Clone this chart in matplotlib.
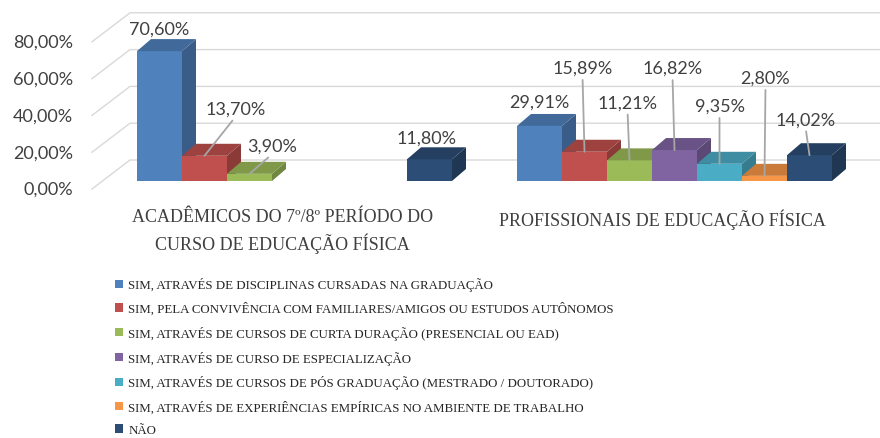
import numpy as np
import matplotlib.pyplot as plt
from matplotlib.patches import Polygon, Patch
from matplotlib.colors import to_rgb

# dados
grupos = ["ACADÊMICOS DO 7º/8º PERÍODO DO\nCURSO DE EDUCAÇÃO FÍSICA",
          "PROFISSIONAIS DE EDUCAÇÃO FÍSICA"]
series = ["SIM, ATRAVÉS DE DISCIPLINAS CURSADAS NA GRADUAÇÃO",
          "SIM, PELA CONVIVÊNCIA COM FAMILIARES/AMIGOS OU ESTUDOS AUTÔNOMOS",
          "SIM, ATRAVÉS DE CURSOS DE CURTA DURAÇÃO (PRESENCIAL OU EAD)",
          "SIM, ATRAVÉS DE CURSO DE ESPECIALIZAÇÃO",
          "SIM, ATRAVÉS DE CURSOS DE PÓS GRADUAÇÃO (MESTRADO / DOUTORADO)",
          "SIM, ATRAVÉS DE EXPERIÊNCIAS EMPÍRICAS NO AMBIENTE DE TRABALHO",
          "NÃO"]
academicos = [70.60, 13.70, 3.90, np.nan, np.nan, np.nan, 11.80]
profissionais = [29.91, 15.89, 11.21, 16.82, 9.35, 2.80, 14.02]
yticks = [0, 20, 40, 60, 80]

cores = ["#4f81bd", "#c0504d", "#9bbb59", "#8064a2", "#4bacc6", "#f79646", "#2c4d75"]

# posicao dos rotulos (pixels em relacao ao topo da barra) e se tem linha guia
rot_off = [[(0, 22), (31, 47), (23, 28), None, None, None, (-3, 22)],
           [(0, 24), (-2, 84), (-2, 58), (-2, 82), (0, 58), (1, 98), (-4, 36)]]
guia = [[False, True, True, False, False, False, False],
        [False, True, True, True, True, True, True]]

W, H = 880, 439
CAT_PX, PCT_PX = 380.0, 1.84   # pixels por categoria / por ponto percentual
X0, Y0 = 294.5, 257.0          # pixel da categoria 0 e do 0%
DX, DY = 14, 12                # profundidade 3D em pixels

def px(dx):
    return dx / CAT_PX

def py(dy):
    return dy / PCT_PX

def escurece(c, f):
    r, g, b = to_rgb(c)
    return (r * f, g * f, b * f)

fig = plt.figure(figsize=(W / 100, H / 100), dpi=100)
ax = fig.add_axes([0, 0, 1, 1])
ax.set_xlim(-X0 / CAT_PX, (W - X0) / CAT_PX)
ax.set_ylim(-Y0 / PCT_PX, (H - Y0) / PCT_PX)
ax.axis("off")

sans = ["Lato", "DejaVu Sans"]
serif = ["Liberation Serif", "DejaVu Serif"]
cinza = "#404040"

# paredes e linhas de grade
x_front, x_back, x_end = px(92 - X0), px(130 - X0), px(W - X0)
for t in yticks:
    yf = t + py(-8)
    yb = t + py(21)
    ax.plot([x_front, x_back, x_end], [yf, yb, yb], color="#d9d9d9", lw=1, zorder=1)
    ax.text(px(73 - X0), yf, f"{t:.2f}%".replace(".", ","), ha="right", va="center",
            fontsize=13, color=cinza, family=sans)

largura = px(45)
for g, valores in enumerate([academicos, profissionais]):
    for i, v in enumerate(valores):
        if np.isnan(v):
            continue
        xc = g + (i - 3) * largura
        x0, x1 = xc - largura / 2, xc + largura / 2
        ax.bar(xc, v, largura, color=cores[i], zorder=3, linewidth=0)
        lado = Polygon([(x1, 0), (x1 + px(DX), py(DY)), (x1 + px(DX), v + py(DY)), (x1, v)],
                       closed=True, facecolor=escurece(cores[i], 0.72), lw=0, zorder=3)
        topo = Polygon([(x0, v), (x1, v), (x1 + px(DX), v + py(DY)), (x0 + px(DX), v + py(DY))],
                       closed=True, facecolor=escurece(cores[i], 0.82), lw=0, zorder=3)
        ax.add_patch(lado)
        ax.add_patch(topo)

        texto = f"{v:.2f}%".replace(".", ",")
        setas = None
        if guia[g][i]:
            setas = dict(arrowstyle="-", color="#a6a6a6", lw=1.3, relpos=(0.5, 0),
                         shrinkA=1, shrinkB=0)
        ax.annotate(texto, xy=(xc, v), xytext=rot_off[g][i], textcoords="offset pixels",
                    ha="center", va="center", fontsize=13, color=cinza, family=sans,
                    arrowprops=setas, zorder=5)

    ax.text(g + px(-12), (182 - 209) / PCT_PX, grupos[g], ha="center", va="top",
            fontsize=13, color=cinza, family=serif, linespacing=1.45)

handles = [Patch(facecolor=c, edgecolor="none") for c in cores]
fig.legend(handles, series, loc="upper left", bbox_to_anchor=(110 / W, 1 - 273 / H),
           frameon=False, handlelength=0.6, handleheight=0.6,
           handletextpad=0.4, labelspacing=0.83, borderaxespad=0,
           prop={"family": serif, "size": 9.3}, labelcolor="#262626")

fig.savefig("out.png", dpi=100)
